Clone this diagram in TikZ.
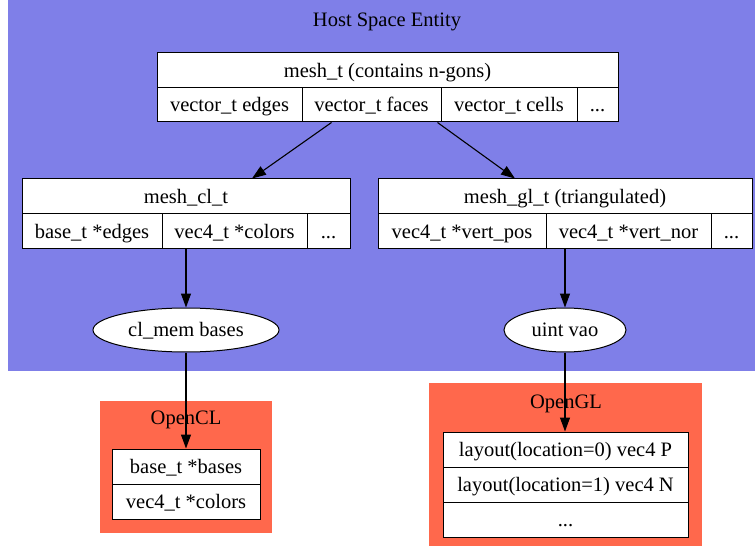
\documentclass[tikz,border=0pt]{standalone}
\usepackage{fontspec}
\setmainfont{Liberation Serif}
\usetikzlibrary{arrows.meta,shapes.geometric}
\definecolor{hostblue}{RGB}{127,127,232}
\definecolor{tomatoc}{RGB}{255,104,76}
\tikzset{
  cell/.style={draw=black,line width=1pt,fill=white,inner sep=0pt,anchor=center,text height=16pt,text depth=2.5pt,font=\fontsize{20.5}{24}\selectfont},
  oval/.style={ellipse,draw=black,line width=1pt,fill=white,inner sep=0pt,text height=16pt,text depth=2.5pt,font=\fontsize{20.5}{24}\selectfont},
  lbl/.style={inner sep=0pt,text height=16pt,text depth=2.5pt,font=\fontsize{20.5}{24}\selectfont},
  arr/.style={line width=1.1pt,-{Triangle[length=14pt,width=10pt]}}
}
\begin{document}
\begin{tikzpicture}[x=1pt,y=-1pt]
\useasboundingbox (0,0) rectangle (755,548);
% clusters
\fill[hostblue] (8,0) rectangle (755,371);
\fill[tomatoc] (100,401) rectangle (272,533);
\fill[tomatoc] (429,383) rectangle (702,546);
\node[lbl] (hostlbl) at (387,20) {Host Space Entity};
\node[lbl] (ocllbl) at (186,418) {OpenCL};
\node[lbl] (ogllbl) at (566,402) {OpenGL};
% mesh_t
\node[cell,minimum width=461pt,minimum height=35pt] (mtop) at (387.5,70.5) {mesh\_t (contains n-gons)};
\node[cell,minimum width=145pt,minimum height=34pt] (medges) at (229.5,105) {vector\_t edges};
\node[cell,minimum width=139pt,minimum height=34pt] (mfaces) at (371.5,105) {vector\_t faces};
\node[cell,minimum width=136pt,minimum height=34pt] (mcells) at (509,105) {vector\_t cells};
\node[cell,minimum width=41pt,minimum height=34pt] (mdots) at (597.5,105) {...};
% mesh_cl_t
\node[cell,minimum width=328pt,minimum height=35pt] (cltop) at (186,196.5) {mesh\_cl\_t};
\node[cell,minimum width=140pt,minimum height=35pt] (cledges) at (92,231.5) {base\_t *edges};
\node[cell,minimum width=145pt,minimum height=35pt] (clcolors) at (234.5,231.5) {vec4\_t *colors};
\node[cell,minimum width=43pt,minimum height=35pt] (cldots) at (328.5,231.5) {...};
% mesh_gl_t
\node[cell,minimum width=374pt,minimum height=35pt] (gltop) at (565,196.5) {mesh\_gl\_t (triangulated)};
\node[cell,minimum width=168pt,minimum height=35pt] (glpos) at (462,231.5) {vec4\_t *vert\_pos};
\node[cell,minimum width=165pt,minimum height=35pt] (glnor) at (628.5,231.5) {vec4\_t *vert\_nor};
\node[cell,minimum width=41pt,minimum height=35pt] (gldots) at (731.5,231.5) {...};
% ellipses
\node[oval,minimum width=186pt,minimum height=44pt] (clmem) at (186,330) {cl\_mem bases};
\node[oval,minimum width=122pt,minimum height=44pt] (vao) at (565,330) {uint vao};
% OpenCL record
\node[cell,minimum width=148pt,minimum height=35pt] (oclbases) at (186,466.5) {base\_t *bases};
\node[cell,minimum width=148pt,minimum height=35pt] (oclcolors) at (186,501.5) {vec4\_t *colors};
% OpenGL record
\node[cell,minimum width=245pt,minimum height=35pt] (oglp) at (565.5,449.5) {layout(location=0) vec4 P};
\node[cell,minimum width=245pt,minimum height=35pt] (ogln) at (565.5,484.5) {layout(location=1) vec4 N};
\node[cell,minimum width=245pt,minimum height=35pt] (ogldots) at (565.5,519.5) {...};
% edges
\draw[arr] ([xshift=-40pt]mfaces.south) -- ([xshift=66pt]cltop.north);
\draw[arr] ([xshift=-4pt]mfaces.south east) -- ([xshift=-50pt]gltop.north);
\draw[arr] (clmem.north |- clcolors.south) -- (clmem.north);
\draw[arr] (vao.north |- glnor.south) -- (vao.north);
\draw[arr] (clmem.south) -- (oclbases.north);
\draw[arr] (vao.south) -- (vao.south |- oglp.north);
\end{tikzpicture}
\end{document}
